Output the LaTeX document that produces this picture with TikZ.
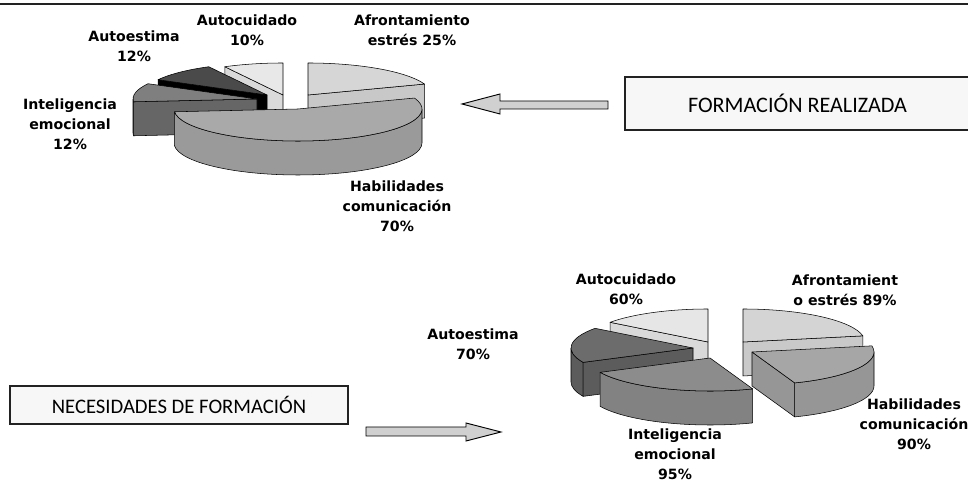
\documentclass[tikz,border=0pt]{standalone}
\usepackage{fontspec}
\setmainfont{DejaVu Sans}
\newfontfamily\boxfont{Carlito}
\usetikzlibrary{calc}
% top chart colours
\definecolor{afT}{HTML}{D6D6D6}\definecolor{afS}{HTML}{C8C8C8}
\definecolor{acT}{HTML}{E8E8E8}\definecolor{acS}{HTML}{DADADA}
\definecolor{aeT}{HTML}{4A4A4A}
\definecolor{inT}{HTML}{7F7F7F}\definecolor{inS}{HTML}{666666}
\definecolor{haT}{HTML}{A9A9A9}\definecolor{haS}{HTML}{9A9A9A}
% bottom chart colours
\definecolor{acTb}{HTML}{E6E6E6}\definecolor{acSb}{HTML}{D9D9D9}
\definecolor{afTb}{HTML}{D4D4D4}\definecolor{afSb}{HTML}{C9C9C9}
\definecolor{aeTb}{HTML}{6C6C6C}\definecolor{aeSb}{HTML}{5C5C5C}
\definecolor{haTb}{HTML}{A6A6A6}\definecolor{haSb}{HTML}{969696}
\definecolor{inTb}{HTML}{8C8C8C}\definecolor{inSb}{HTML}{828282}
\definecolor{arrowfill}{HTML}{D0D0D0}
\definecolor{boxfill}{HTML}{F7F7F7}
\definecolor{boxline}{HTML}{222222}
% slice faces: centre x, centre y, R, r, ...
\newcommand\pietop[7]{\filldraw[pie, fill=#7] (#1,#2) -- ++(#5:#3 and #4) arc[start angle=#5, end angle=#6, x radius=#3, y radius=#4] -- cycle;}
\newcommand\pierim[8]{\filldraw[pie, fill=#8] (#1,#2) ++(#6:#3 and #4) arc[start angle=#6, end angle=#7, x radius=#3, y radius=#4] -- ++(0,-#5) arc[start angle=#7, end angle=#6, x radius=#3, y radius=#4] -- cycle;}
\newcommand\pierad[7]{\filldraw[pie, fill=#7] (#1,#2) -- ++(#6:#3 and #4) -- ++(0,-#5) -- ($(#1,#2)+(0,-#5)$) -- cycle;}
\begin{document}
\begin{tikzpicture}[x=0.75pt,y=0.75pt,
  pie/.style={draw=black, line width=0.4pt, line join=round},
  lbl/.style={font=\bfseries\fontsize{10.6}{15}\selectfont, align=center, inner sep=0pt},
  boxnode/.style={draw=boxline, line width=1.1pt, fill=boxfill, inner sep=0pt},
  blockarrow/.style={draw=black, line width=0.7pt, fill=arrowfill, line join=miter}]
\useasboundingbox (0,0) rectangle (968,484);
\clip (0,0) rectangle (968,484);
\fill[white] (0,0) rectangle (968,484);
\draw[line width=1.4pt, draw=boxline] (0,480) -- (968,480);

% ---------- top pie (formación realizada) ----------
\pierad{308}{389}{124}{32}{34}{20}{afS}
\pietop{308}{389}{124}{32}{20}{90}{afT}
\pierad{283}{389}{124}{32}{34}{118}{acS}
\pietop{283}{389}{124}{32}{90}{118}{acT}
\pierad{267}{389}{124}{32}{34}{151.5}{black}
\pietop{267}{389}{124}{32}{118}{151.5}{aeT}
\pierim{257}{385}{124}{32}{34}{180}{185}{inS}
\pierad{257}{385}{124}{32}{34}{185}{inS}
\pietop{257}{385}{124}{32}{151.5}{185}{inT}
\pierim{298}{375}{124}{32}{34}{-175}{0}{haS}
\pietop{298}{375}{124}{32}{-175}{20}{haT}

% ---------- bottom pie (necesidades) ----------
\pierad{708}{142}{122}{33}{34}{143.4}{acSb}
\pietop{708}{142}{122}{33}{90}{143.4}{acTb}
\pierad{743}{142}{122}{33}{34}{10.7}{afSb}
\pietop{743}{142}{122}{33}{10.7}{90}{afTb}
\pierim{693}{136}{122}{33}{34}{180}{205.8}{aeSb}
\pierad{693}{136}{122}{33}{34}{205.8}{aeSb}
\pietop{693}{136}{122}{33}{143.4}{205.8}{aeTb}
\pierim{752}{132}{122}{33}{34}{-69.5}{0}{haSb}
\pierad{752}{132}{122}{33}{34}{-69.5}{haSb}
\pietop{752}{132}{122}{33}{-69.5}{10.7}{haTb}
\pierim{710}{126}{122}{33}{34}{205.8}{290.5}{inSb}
\pietop{710}{126}{122}{33}{205.8}{290.5}{inTb}

% ---------- boxes ----------
\node[boxnode, font=\boxfont\fontsize{16.6}{19}\selectfont, minimum width=258.75pt, minimum height=39.75pt] (formbox) at (797.5,380.5) {FORMACIÓN REALIZADA};
\node[boxnode, font=\boxfont\fontsize{15.5}{18}\selectfont, minimum width=253.5pt, minimum height=28.5pt] (necbox) at (179,79) {NECESIDADES DE FORMACIÓN};

% ---------- block arrows ----------
\filldraw[blockarrow] (462,380) -- (500,390) -- (500,383) -- (608,383) -- (608,375) -- (500,375) -- (500,370) -- cycle;
\filldraw[blockarrow] (501,52) -- (466,61) -- (466,57) -- (366,57) -- (366,48) -- (466,48) -- (466,43) -- cycle;

% ---------- labels ----------
\node[lbl] (lAEt) at (134,438) {Autoestima\\12\%};
\node[lbl] (lACt) at (247,454) {Autocuidado\\10\%};
\node[lbl] (lAFt) at (412,454) {Afrontamiento\\estrés 25\%};
\node[lbl] (lINt) at (70,360) {Inteligencia\\emocional\\12\%};
\node[lbl] (lHAt) at (397,278) {Habilidades\\comunicación\\70\%};
\node[lbl] (lACb) at (626,195) {Autocuidado\\60\%};
\node[lbl] (lAFb) at (845,194) {Afrontamient\\o estrés 89\%};
\node[lbl] (lAEb) at (473,140) {Autoestima\\70\%};
\node[lbl] (lINb) at (675,30) {Inteligencia\\emocional\\95\%};
\node[lbl] (lHAb) at (914,60) {Habilidades\\comunicación\\90\%};
\end{tikzpicture}
\end{document}
